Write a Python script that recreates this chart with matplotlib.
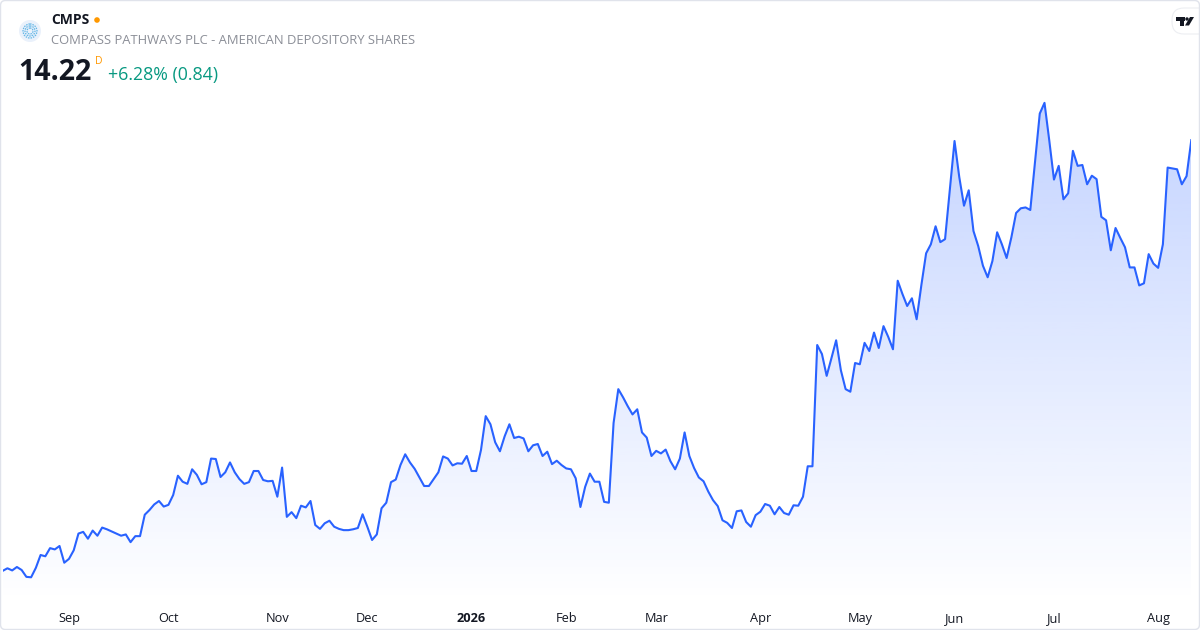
import numpy as np
import pandas as pd
import matplotlib
matplotlib.use("Agg")
import matplotlib.pyplot as plt
from matplotlib.patches import Polygon, Circle, FancyBboxPatch, Rectangle
from matplotlib.colors import to_rgb
from matplotlib.transforms import Affine2D

plt.rcParams['font.family'] = ['Open Sans', 'DejaVu Sans']

# daily closes, CMPS, 2025-08-12 .. 2026-08-12
prices = [
    4.17, 4.23, 4.18, 4.26, 4.19, 4.03, 4.02, 4.24, 4.54, 4.51, 4.70, 4.67, 4.75, 4.36,
    4.45, 4.65, 5.04, 5.08, 4.92, 5.11, 4.99, 5.18, 5.14, 5.09, 5.04, 4.99, 5.02, 4.84,
    4.98, 4.98, 5.48, 5.59, 5.72, 5.80, 5.67, 5.71, 5.94, 6.39, 6.25, 6.20, 6.54, 6.41,
    6.19, 6.24, 6.79, 6.78, 6.36, 6.47, 6.70, 6.47, 6.31, 6.20, 6.24, 6.50, 6.50, 6.29,
    6.26, 6.27, 5.90, 6.58, 5.43, 5.54, 5.40, 5.69, 5.65, 5.80, 5.24, 5.15, 5.28, 5.34,
    5.20, 5.15, 5.12, 5.12, 5.14, 5.17, 5.49, 5.20, 4.89, 5.02, 5.63, 5.76, 6.24, 6.30,
    6.64, 6.89, 6.70, 6.55, 6.35, 6.15, 6.15, 6.31, 6.47, 6.84, 6.79, 6.63, 6.68, 6.67,
    6.85, 6.50, 6.50, 6.99, 7.78, 7.59, 7.17, 6.96, 7.31, 7.59, 7.27, 7.30, 7.26, 6.96,
    7.10, 7.13, 6.85, 6.95, 6.66, 6.74, 6.64, 6.56, 6.54, 6.33, 5.66, 6.13, 6.44, 6.25,
    6.25,
    5.78, 5.76, 7.62, 8.41, 8.22, 8.01, 7.82, 7.94, 7.40, 7.28, 6.85, 6.97, 6.91, 7.00,
    6.73, 6.54, 6.79, 7.40, 6.85, 6.57, 6.35, 6.26, 6.02, 5.82, 5.68, 5.35, 5.29, 5.17,
    5.56, 5.58, 5.31, 5.20, 5.47, 5.55, 5.73, 5.69, 5.49, 5.66, 5.52, 5.48, 5.70, 5.69,
    5.90,
    6.61, 6.61, 9.44, 9.23, 8.72, 9.13, 9.55, 8.85, 8.41, 8.35, 9.02, 8.99, 9.49, 9.30,
    9.73, 9.37, 9.88, 9.63, 9.34, 10.94, 10.63, 10.35, 10.53, 10.04, 10.84, 11.58, 11.79,
    12.21, 11.84, 11.91, 13.05, 14.20, 13.36, 12.69, 13.05, 12.10, 11.75, 11.29, 11.02,
    11.40, 12.07, 11.79, 11.47, 11.95, 12.52, 12.63, 12.65, 12.59, 13.71, 14.84, 15.09,
    14.22, 13.30, 13.62, 12.84, 12.98, 13.97, 13.62, 13.64, 13.19, 13.39, 13.31, 12.43,
    12.35, 11.65, 12.17, 11.94, 11.72, 11.25, 11.25, 10.83, 10.88, 11.56, 11.34, 11.24,
    11.79, 13.58, 13.56, 13.54, 13.19, 13.38, 14.22,
]

# NYSE closures in the window
holidays = ["2025-09-01", "2025-11-27", "2025-12-25", "2026-01-01", "2026-01-19",
            "2026-02-16", "2026-04-03", "2026-05-25", "2026-06-19", "2026-07-03"]

ticker = "CMPS"
name = "COMPASS PATHWAYS PLC - AMERICAN DEPOSITORY SHARES"
last_price = "14.22"
change_text = "+6.28% (0.84)"

dates = pd.bdate_range("2025-08-12", "2026-08-12", freq="C", holidays=holidays)
prices = np.array(prices[:len(dates)])
dates = dates[:len(prices)]
x = np.arange(len(prices))

# month ticks at first trading day of each month
s = pd.Series(x, index=dates)
firsts = s.groupby([dates.year, dates.month]).first()
tick_pos, tick_lab = [], []
for (yr, mo), pos in firsts.items():
    if pos == 0:
        continue
    tick_pos.append(pos)
    tick_lab.append(str(yr) if mo == 1 else pd.Timestamp(yr, mo, 1).strftime("%b"))

W, H = 1200, 630
fig = plt.figure(figsize=(12, 6.3), dpi=100)
fig.patch.set_facecolor("white")

def fx(px):
    return px / W

def fy(py):
    return 1 - py / H

# pixel coords, y measured from the top
pix = Affine2D().scale(1, -1).translate(0, H)

# axes: data index 0 at px 2.7, last at px 1191.3; price scale from the chart
left_px, right_px = 2.7, 1191.3
top_px, bot_px = 90, 603
ax = fig.add_axes([fx(left_px), fy(bot_px), (right_px - left_px) / W, (bot_px - top_px) / H])
ylo, yhi = 3.42, 15.39
ax.set_xlim(0, len(prices) - 1)
ax.set_ylim(ylo, yhi)
for sp in ax.spines.values():
    sp.set_visible(False)
ax.set_yticks([])
ax.set_xticks([])

blue = "#2962ff"
# gradient area
grad = np.zeros((256, 1, 4))
grad[..., :3] = to_rgb(blue)
grad[:, 0, 3] = np.linspace(0.0, 0.28, 256)
im = ax.imshow(grad, extent=(0, len(prices) - 1, ylo, prices.max()), origin="lower",
               aspect="auto", zorder=1, interpolation="bilinear")
verts = [(0, ylo)] + list(zip(x, prices)) + [(len(prices) - 1, ylo)]
clip = Polygon(verts, closed=True, facecolor="none", edgecolor="none")
ax.add_patch(clip)
im.set_clip_path(clip)
ax.set_ylim(ylo, yhi)

ax.plot(x, prices, color=blue, lw=1.5, zorder=3, solid_joinstyle="round")

# x tick labels
for pos, lab in zip(tick_pos, tick_lab):
    ax.text(pos, -0.03, lab, transform=ax.get_xaxis_transform(), ha="center", va="center",
            fontsize=9.2, color="#131722", fontweight="bold" if lab.isdigit() else "normal")

# header
fig.patches.append(Circle((30, 31), 11, transform=pix, facecolor="#eaf1fb", edgecolor="none"))
for r in (7, 5, 3):
    fig.patches.append(Circle((30, 31), r, transform=pix, facecolor="none",
                              edgecolor="#62b6e6", lw=0.9, ls=(0, (1.2, 0.8))))
fig.text(fx(51), fy(20), ticker, fontsize=10, fontweight="bold", color="#131722",
         ha="left", va="center")
fig.patches.append(Circle((97, 20), 2.8, transform=pix, facecolor="#ff9800", edgecolor="none"))
fig.text(fx(51), fy(41), name, fontsize=9.4, color="#8b8e97", ha="left", va="center")
fig.text(fx(18), fy(72), last_price, fontsize=20.5, fontweight="bold", color="#131722",
         ha="left", va="center")
fig.text(fx(95), fy(61), "D", fontsize=7.5, color="#ff9800", ha="left", va="center")
fig.text(fx(108), fy(75), change_text, fontsize=12.8, color="#089981", ha="left", va="center")

# tradingview badge
fig.patches.append(FancyBboxPatch((1172, 8), 40, 26, boxstyle="round,pad=0,rounding_size=12",
                                  transform=pix, facecolor="white", edgecolor="#eceef2", lw=0.8))
fig.patches.append(Rectangle((1176, 17), 9, 3.5, transform=pix, facecolor="#131722",
                             edgecolor="none"))
fig.patches.append(Rectangle((1180, 17), 3.5, 8.5, transform=pix, facecolor="#131722",
                             edgecolor="none"))
fig.patches.append(Circle((1187, 19), 1.7, transform=pix, facecolor="#131722", edgecolor="none"))
fig.patches.append(Polygon([(1190, 17), (1194, 17), (1189, 25.5), (1185, 25.5)], closed=True,
                           transform=pix, facecolor="#131722", edgecolor="none"))

# card border
fig.patches.append(FancyBboxPatch((0.5, 0.5), 1199, 629, boxstyle="round,pad=0,rounding_size=5",
                                  transform=pix, facecolor="none", edgecolor="#e0e3eb", lw=1.0))

fig.savefig("out.png", dpi=100, facecolor="white")
